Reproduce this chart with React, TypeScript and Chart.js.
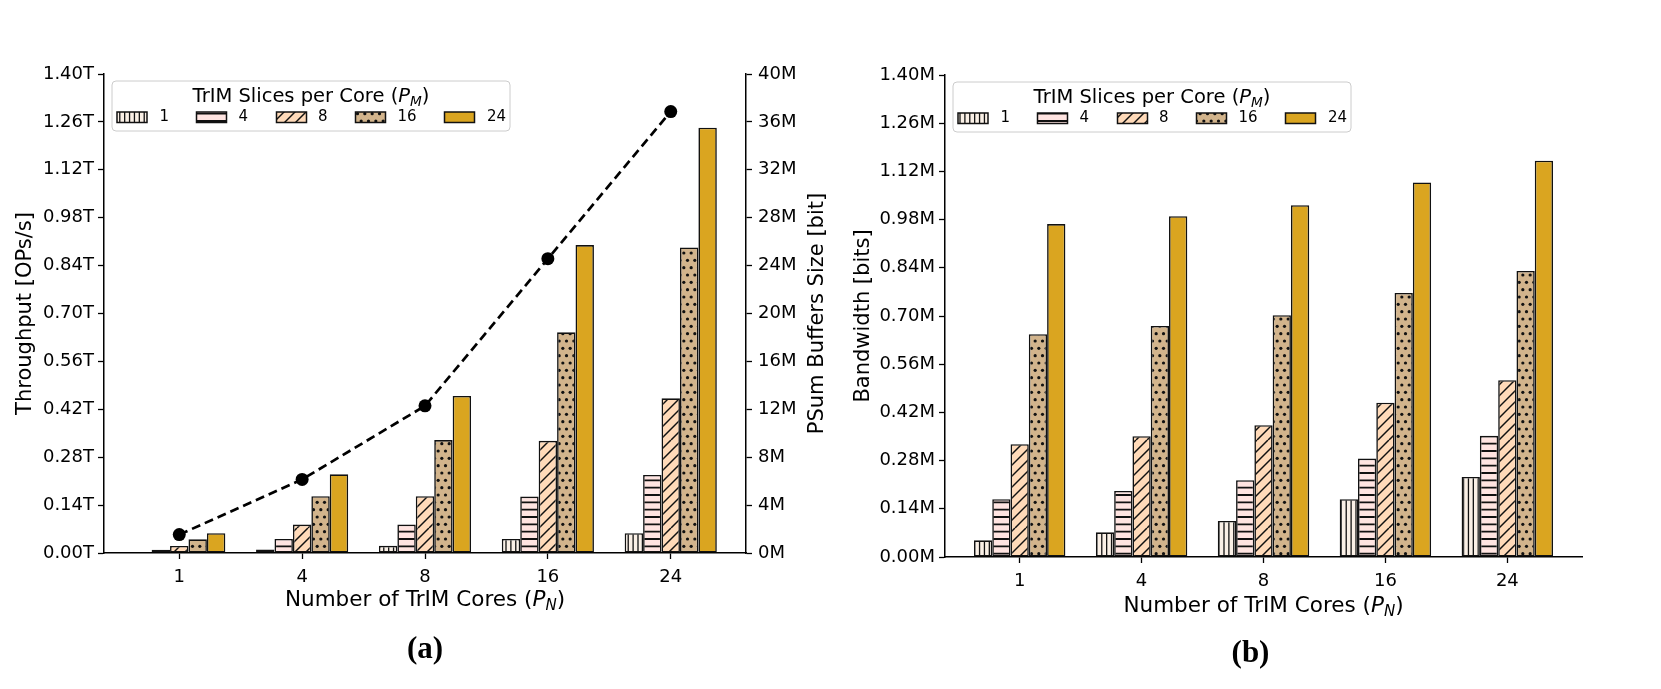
import React, { useEffect, useRef } from 'react';
import { Chart, registerables } from 'chart.js';

Chart.register(...registerables);

const FONT = '"DejaVu Sans", "Liberation Sans", sans-serif';

// categories: number of TrIM cores (P_N)
const coreLabels = ['1', '4', '8', '16', '24'];
// series: TrIM slices per core (P_M)
const sliceLabels = ['1', '4', '8', '16', '24'];
const sliceColors = ['#FAF0E6', '#FFE4E1', '#FFDAB9', '#D2B48C', '#DAA520'];
const sliceHatches = ['vert', 'horiz', 'diag', 'dots', 'none'];

// (a) throughput [T OPs/s], one list per P_M, over P_N
const thrPM1 = [0.0024, 0.0105, 0.021, 0.041, 0.058];
const thrPM4 = [0.0096, 0.041, 0.083, 0.165, 0.228];
const thrPM8 = [0.0205, 0.083, 0.166, 0.328, 0.452];
const thrPM16 = [0.04, 0.166, 0.33, 0.645, 0.893];
const thrPM24 = [0.058, 0.23, 0.459, 0.9, 1.243];
// (a) PSum buffers size [M bit], over P_N
const psumBufferM = [1.536, 6.144, 12.288, 24.576, 36.864];

// (b) bandwidth [M bits], one list per P_M, over P_N
const bwPM1 = [0.0485, 0.0718, 0.1046, 0.1677, 0.2325];
const bwPM4 = [0.1677, 0.192, 0.223, 0.286, 0.352];
const bwPM8 = [0.3275, 0.351, 0.383, 0.448, 0.5135];
const bwPM16 = [0.647, 0.671, 0.7025, 0.767, 0.831];
const bwPM24 = [0.967, 0.99, 1.022, 1.088, 1.151];

// tick values and labels
const thrTicks = [0, 0.14, 0.28, 0.42, 0.56, 0.7, 0.84, 0.98, 1.12, 1.26, 1.4];
const thrTickLabels = ['0.00T', '0.14T', '0.28T', '0.42T', '0.56T', '0.70T', '0.84T', '0.98T', '1.12T', '1.26T', '1.40T'];
const psumTicks = [0, 4, 8, 12, 16, 20, 24, 28, 32, 36, 40];
const psumTickLabels = ['0M', '4M', '8M', '12M', '16M', '20M', '24M', '28M', '32M', '36M', '40M'];
const bwTicks = [0, 0.14, 0.28, 0.42, 0.56, 0.7, 0.84, 0.98, 1.12, 1.26, 1.4];
const bwTickLabels = ['0.00M', '0.14M', '0.28M', '0.42M', '0.56M', '0.70M', '0.84M', '0.98M', '1.12M', '1.26M', '1.40M'];

type Part = { t: string; it?: boolean; sub?: boolean };

function drawRich(
  ctx: CanvasRenderingContext2D,
  parts: Part[],
  x: number,
  y: number,
  size: number,
  rotate = 0,
  weight = 'normal',
  family = FONT
) {
  ctx.save();
  ctx.translate(x, y);
  if (rotate) ctx.rotate(rotate);
  const fontFor = (p: Part) => `${p.it ? 'italic ' : ''}${weight} ${p.sub ? size * 0.7 : size}px ${family}`;
  let total = 0;
  const widths = parts.map((p) => {
    ctx.font = fontFor(p);
    const w = ctx.measureText(p.t).width;
    total += w;
    return w;
  });
  let cx = -total / 2;
  ctx.textAlign = 'left';
  ctx.textBaseline = 'alphabetic';
  ctx.fillStyle = '#000';
  const base = size * 0.36;
  parts.forEach((p, i) => {
    ctx.font = fontFor(p);
    ctx.fillText(p.t, cx, base + (p.sub ? size * 0.22 : 0));
    cx += widths[i];
  });
  ctx.restore();
}

function makePattern(ctx: CanvasRenderingContext2D, kind: string, bg: string): CanvasPattern | string {
  if (kind === 'none') return bg;
  const U = 88;
  const c = document.createElement('canvas');
  c.width = U;
  c.height = U;
  const g = c.getContext('2d')!;
  g.fillStyle = bg;
  g.fillRect(0, 0, U, U);
  g.strokeStyle = '#111';
  g.fillStyle = '#111';
  g.lineWidth = 1.3;
  if (kind === 'vert') {
    const n = 18;
    for (let i = 0; i < n; i++) {
      const x = (i + 0.5) * (U / n);
      g.beginPath();
      g.moveTo(x, 0);
      g.lineTo(x, U);
      g.stroke();
    }
  } else if (kind === 'horiz') {
    const n = 12;
    g.lineWidth = 1.8;
    for (let i = 0; i < n; i++) {
      const y = (i + 0.5) * (U / n);
      g.beginPath();
      g.moveTo(0, y);
      g.lineTo(U, y);
      g.stroke();
    }
  } else if (kind === 'diag') {
    const n = 8;
    g.lineWidth = 1.5;
    for (let i = 0; i <= 2 * n; i++) {
      const cc = i * (U / n);
      g.beginPath();
      g.moveTo(cc, 0);
      g.lineTo(cc - U, U);
      g.stroke();
    }
  } else if (kind === 'dots') {
    const n = 12;
    const s = U / n;
    for (let r = 0; r < n; r++) {
      for (let col = 0; col < n; col++) {
        const x = col * s + (r % 2 ? s / 2 : 0) + s / 4;
        const y = r * s + s / 2;
        g.beginPath();
        g.arc(x, y, 1.6, 0, Math.PI * 2);
        g.fill();
      }
    }
  }
  return ctx.createPattern(c, 'repeat') as CanvasPattern;
}

type PanelSpec = {
  series: number[][];
  line?: number[];
  yTicks: number[];
  yTickLabels: string[];
  y1Ticks?: number[];
  y1TickLabels?: string[];
  yMax: number;
  y1Max?: number;
  leftW: number;
  rightW: number;
  padRight: number;
  padTop: number;
  xH: number;
  yTitle: string;
  yTitleDx: number;
  y1Title?: string;
  y1TitleDx?: number;
  xTitleDy: number;
  panel: string;
  panelDx: number;
};

function tickGrid() {
  return {
    display: true,
    drawOnChartArea: false,
    drawTicks: true,
    tickLength: 6,
    tickColor: '#000',
    tickWidth: 1.3,
    offset: false,
  };
}

function buildChart(canvas: HTMLCanvasElement, spec: PanelSpec) {
  const ctx0 = canvas.getContext('2d')!;
  const patterns = sliceColors.map((c, k) => makePattern(ctx0, sliceHatches[k], c));
  const tickFont = { family: FONT, size: 18 };

  const datasets: any[] = spec.series.map((vals, k) => ({
    type: 'bar',
    label: sliceLabels[k],
    data: vals.map((v, i) => ({ x: i, y: v })),
    backgroundColor: patterns[k],
    borderColor: '#111',
    borderWidth: 1.6,
    borderSkipped: false,
    categoryPercentage: 0.75,
    barPercentage: 1,
    order: 1,
    yAxisID: 'y',
  }));
  if (spec.line) {
    datasets.push({
      type: 'line',
      label: 'PSum',
      data: spec.line.map((v, i) => ({ x: i, y: v })),
      borderColor: '#000',
      borderWidth: 2.7,
      borderDash: [9, 5],
      pointRadius: 6.5,
      pointBackgroundColor: '#000',
      pointBorderColor: '#000',
      pointBorderWidth: 0,
      fill: false,
      tension: 0,
      yAxisID: 'y1',
      order: 0,
    });
  }

  const decor = {
    id: 'decor',
    afterDraw(chart: any) {
      const ctx: CanvasRenderingContext2D = chart.ctx;
      const a = chart.chartArea;
      const midY = (a.top + a.bottom) / 2;
      const midX = (a.left + a.right) / 2;
      // axis titles
      drawRich(ctx, [{ t: spec.yTitle }], a.left + spec.yTitleDx, midY, 21, -Math.PI / 2);
      if (spec.y1Title) drawRich(ctx, [{ t: spec.y1Title }], a.right + (spec.y1TitleDx || 0), midY, 21, -Math.PI / 2);
      drawRich(
        ctx,
        [{ t: 'Number of TrIM Cores (' }, { t: 'P', it: true }, { t: 'N', it: true, sub: true }, { t: ')' }],
        midX,
        a.bottom + spec.xTitleDy,
        21.5
      );
      // panel label
      drawRich(ctx, [{ t: spec.panel }], midX + spec.panelDx, a.bottom + 94, 31, 0, 'bold', '"Liberation Serif", "Times New Roman", serif');

      // legend
      const lx = a.left + 8;
      const ly = a.top + 7;
      const lw = 398;
      const lh = 50;
      ctx.save();
      ctx.beginPath();
      const r = 4;
      ctx.moveTo(lx + r, ly);
      ctx.lineTo(lx + lw - r, ly);
      ctx.quadraticCurveTo(lx + lw, ly, lx + lw, ly + r);
      ctx.lineTo(lx + lw, ly + lh - r);
      ctx.quadraticCurveTo(lx + lw, ly + lh, lx + lw - r, ly + lh);
      ctx.lineTo(lx + r, ly + lh);
      ctx.quadraticCurveTo(lx, ly + lh, lx, ly + lh - r);
      ctx.lineTo(lx, ly + r);
      ctx.quadraticCurveTo(lx, ly, lx + r, ly);
      ctx.closePath();
      ctx.fillStyle = 'rgba(255,255,255,0.85)';
      ctx.fill();
      ctx.strokeStyle = '#cccccc';
      ctx.lineWidth = 1;
      ctx.stroke();
      ctx.restore();
      drawRich(
        ctx,
        [{ t: 'TrIM Slices per Core (' }, { t: 'P', it: true }, { t: 'M', it: true, sub: true }, { t: ')' }],
        lx + lw / 2,
        ly + 14,
        19.5
      );
      const patchX = [5, 84.5, 164.5, 243.5, 332.5];
      const labelX = [47.5, 126.5, 206, 285.5, 375];
      sliceLabels.forEach((lab, k) => {
        const px = lx + patchX[k];
        const py = ly + 31;
        ctx.save();
        ctx.fillStyle = patterns[k] as any;
        ctx.fillRect(px, py, 30, 10.5);
        ctx.strokeStyle = '#111';
        ctx.lineWidth = 1.5;
        ctx.strokeRect(px, py, 30, 10.5);
        ctx.font = `15px ${FONT}`;
        ctx.textBaseline = 'middle';
        ctx.textAlign = 'left';
        ctx.fillStyle = '#000';
        ctx.fillText(lab, lx + labelX[k], py + 5.5);
        ctx.restore();
      });
    },
  };

  const scales: any = {
    x: {
      type: 'linear',
      min: -0.6125,
      max: 4.6125,
      offset: false,
      afterBuildTicks: (s: any) => {
        s.ticks = coreLabels.map((_, i) => ({ value: i }));
      },
      afterFit: (s: any) => {
        s.height = spec.xH;
      },
      ticks: {
        callback: (_v: any, i: number) => coreLabels[i],
        font: tickFont,
        color: '#000',
        padding: 8,
        maxRotation: 0,
        autoSkip: false,
      },
      grid: tickGrid(),
      border: { display: true, color: '#000', width: 1.5 },
    },
    y: {
      type: 'linear',
      position: 'left',
      min: 0,
      max: spec.yMax,
      afterBuildTicks: (s: any) => {
        s.ticks = spec.yTicks.map((v) => ({ value: v }));
      },
      afterFit: (s: any) => {
        s.width = spec.leftW;
      },
      ticks: {
        callback: (_v: any, i: number) => spec.yTickLabels[i],
        font: tickFont,
        color: '#000',
        padding: 4,
      },
      grid: tickGrid(),
      border: { display: true, color: '#000', width: 1.5 },
    },
  };
  if (spec.y1Ticks) {
    scales.y1 = {
      type: 'linear',
      position: 'right',
      min: 0,
      max: spec.y1Max,
      afterBuildTicks: (s: any) => {
        s.ticks = (spec.y1Ticks as number[]).map((v) => ({ value: v }));
      },
      afterFit: (s: any) => {
        s.width = spec.rightW;
      },
      ticks: {
        callback: (_v: any, i: number) => (spec.y1TickLabels as string[])[i],
        font: tickFont,
        color: '#000',
        padding: 6,
      },
      grid: tickGrid(),
      border: { display: true, color: '#000', width: 1.5 },
    };
  }

  return new Chart(canvas, {
    type: 'bar',
    data: { datasets },
    options: {
      responsive: false,
      animation: false,
      layout: { padding: { left: 0, right: spec.padRight, top: spec.padTop, bottom: 0 } },
      plugins: {
        legend: { display: false },
        tooltip: { enabled: false },
        title: { display: false },
      },
      scales,
    },
    plugins: [decor],
  } as any);
}

function Panel({ spec, left, width }: { spec: PanelSpec; left: number; width: number }) {
  const ref = useRef<HTMLCanvasElement | null>(null);
  useEffect(() => {
    if (!ref.current) return;
    const chart = buildChart(ref.current, spec);
    return () => chart.destroy();
  }, [spec]);
  return (
    <canvas
      ref={ref}
      width={width}
      height={689}
      style={{ position: 'absolute', left, top: 0, width, height: 689 }}
    />
  );
}

const specA: PanelSpec = {
  series: [thrPM1, thrPM4, thrPM8, thrPM16, thrPM24],
  line: psumBufferM,
  yTicks: thrTicks,
  yTickLabels: thrTickLabels,
  y1Ticks: psumTicks,
  y1TickLabels: psumTickLabels,
  yMax: 1.4,
  y1Max: 40,
  leftW: 104,
  rightW: 104,
  padRight: 0,
  padTop: 74,
  xH: 136,
  yTitle: 'Throughput [OPs/s]',
  yTitleDx: -81,
  y1Title: 'PSum Buffers Size [bit]',
  y1TitleDx: 69,
  xTitleDy: 45,
  panel: '(a)',
  panelDx: 0,
};

const specB: PanelSpec = {
  series: [bwPM1, bwPM4, bwPM8, bwPM16, bwPM24],
  yTicks: bwTicks,
  yTickLabels: bwTickLabels,
  yMax: 1.4,
  leftW: 95,
  rightW: 0,
  padRight: 79,
  padTop: 75,
  xH: 132,
  yTitle: 'Bandwidth [bits]',
  yTitleDx: -84,
  xTitleDy: 47,
  panel: '(b)',
  panelDx: -13,
};

export default function App() {
  return (
    <div style={{ position: 'fixed', left: 0, top: 0, width: 1661, height: 689, background: '#fff', overflow: 'hidden' }}>
      <Panel spec={specA} left={0} width={850} />
      <Panel spec={specB} left={850} width={811} />
    </div>
  );
}
